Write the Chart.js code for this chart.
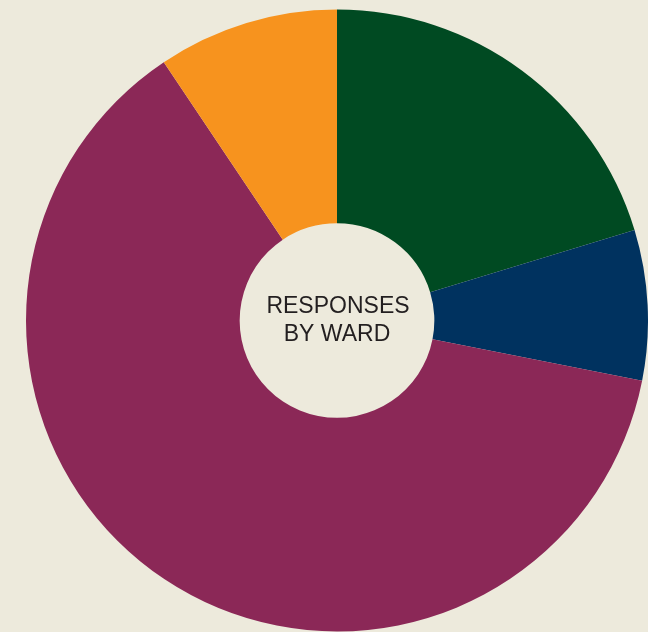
<!DOCTYPE html>
<html>
<head>
<meta charset="utf-8">
<script src="https://cdn.jsdelivr.net/npm/chart.js@4"></script>
<style>
  html, body { margin: 0; padding: 0; background: #edeadc; }
  #wrap { width: 648px; height: 632px; }
</style>
</head>
<body>
<div id="wrap"><canvas id="chart"></canvas></div>
<script>
const wards = ['Ward A', 'Ward B', 'Ward C', 'Ward D'];
const responses = [20.3, 7.8, 62.5, 9.4];
const wardColors = ['#004a22', '#00325f', '#8b2857', '#f7931e'];
const centerLines = ['RESPONSES', 'BY WARD'];

const centerText = {
    id: 'centerText',
    afterDatasetsDraw(chart) {
        const { ctx, chartArea } = chart;
        const cx = (chartArea.left + chartArea.right) / 2;
        const cy = (chartArea.top + chartArea.bottom) / 2;
        ctx.save();
        ctx.fillStyle = '#231f20';
        ctx.font = '23px "Liberation Sans", Arial, sans-serif';
        ctx.textAlign = 'center';
        ctx.textBaseline = 'middle';
        ctx.fillText(centerLines[0], cx + 1, cy - 14);
        ctx.fillText(centerLines[1], cx, cy + 14);
        ctx.restore();
    }
};

new Chart(document.getElementById('chart'), {
    type: 'doughnut',
    data: {
        labels: wards,
        datasets: [{
            data: responses,
            backgroundColor: wardColors,
            borderWidth: 0
        }]
    },
    options: {
        responsive: true,
        maintainAspectRatio: false,
        animation: false,
        cutout: '31.3%',
        layout: { padding: { left: 26, right: 0, top: 9, bottom: 0 } },
        plugins: {
            legend: { display: false },
            tooltip: { enabled: false }
        }
    },
    plugins: [centerText]
});
</script>
</body>
</html>
